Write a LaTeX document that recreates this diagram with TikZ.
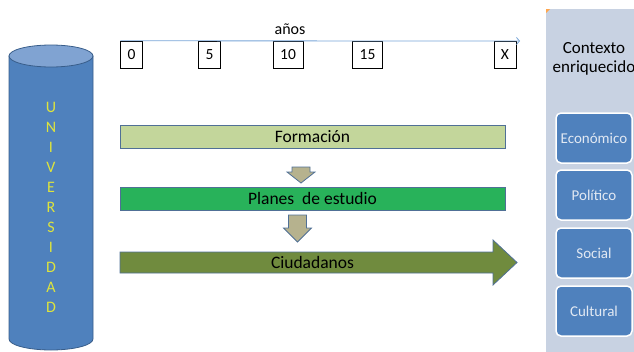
\documentclass[tikz,border=0pt]{standalone}
\usepackage{fontspec}
\setmainfont{Carlito}
\usetikzlibrary{arrows.meta,positioning,calc}

\definecolor{cylbody}{RGB}{79,129,189}
\definecolor{cyltop}{RGB}{128,163,210}
\definecolor{cylline}{RGB}{56,93,138}
\definecolor{uyellow}{RGB}{222,228,60}
\definecolor{lineblue}{RGB}{120,165,215}
\definecolor{barline}{RGB}{80,112,150}
\definecolor{formfill}{RGB}{195,214,155}
\definecolor{planfill}{RGB}{40,178,90}
\definecolor{ciudfill}{RGB}{112,139,62}
\definecolor{downfill}{RGB}{182,178,142}
\definecolor{panelfill}{RGB}{200,210,226}
\definecolor{boxtext}{RGB}{226,233,243}

\tikzset{
  uletter/.style={font=\fontsize{16}{16}\selectfont,text=uyellow,inner sep=0pt},
  tickbox/.style={draw,thin,fill=white,inner xsep=7pt,inner ysep=0pt,
    minimum height=27pt,font=\fontsize{15.5}{16}\selectfont},
  bar/.style={draw=barline,thick,minimum width=385pt,minimum height=23pt,
    font=\fontsize{17.5}{18}\selectfont},
  ctxbox/.style={draw=white,line width=1.5pt,fill=cylbody,rounded corners=5pt,
    minimum width=76pt,minimum height=50pt,text=boxtext,font=\fontsize{15}{16}\selectfont}
}

\begin{document}
\begin{tikzpicture}[x=1pt,y=1pt]
  \useasboundingbox (0,0) rectangle (634,-351);

  % Cylinder (universidad)
  \filldraw[fill=cylbody,draw=cylline,thick] (9,-56) -- (9,-339)
    arc[start angle=180,end angle=360,x radius=42,y radius=11] -- (93,-56) -- cycle;
  \filldraw[fill=cyltop,draw=cylline,thick] (51,-56) ellipse[x radius=42,y radius=11];
  \foreach \l [count=\i] in {U,N,I,V,E,R,S,I,D,A,D}
    \node[uletter] (u\i) at (51,-87-20*\i) {\l};

  % Time line
  \foreach \t/\x in {0/131.5,5/209.5,10/288,15/367.5,X/505}
    \node[tickbox] (t\t) at (\x,-54.5) {\t};
  \coordinate (tend) at (520,-41);
  \draw[lineblue,thick,-{Straight Barb[length=3pt,width=7pt]}] (t0.north west) -- (tend);
  \node[font=\fontsize{16}{16}\selectfont] (anos) at (290,-29) {años};

  % Bars
  \node[bar,fill=formfill] (form) at (312.5,-136.5) {Formación};
  \node[bar,fill=planfill] (plan) at (312.5,-198.5) {Planes\ \ de estudio};

  % Down arrows
  \foreach \cx/\ya/\yb/\yc in {301/167/172/183,297.5/215/228/242}
    \filldraw[fill=downfill,draw=barline,thick] ({\cx-9},-\ya) -- ({\cx+9},-\ya)
      -- ({\cx+9},-\yb) -- ({\cx+14},-\yb) -- (\cx,-\yc) -- ({\cx-14},-\yb)
      -- ({\cx-9},-\yb) -- cycle;

  % Ciudadanos arrow
  \filldraw[fill=ciudfill,draw=barline,thick] (120,-252) -- (493,-252) -- (493,-240)
    -- (517,-262.5) -- (493,-285) -- (493,-273) -- (120,-273) -- cycle;
  \node[font=\fontsize{17.5}{18}\selectfont] (ciud) at (312.5,-262.5) {Ciudadanos};

  % Context panel
  \fill[panelfill] (546,-9) rectangle (640,-355);
  \fill[orange!70] (546,-9) -- (550,-9) -- (546,-13) -- cycle;
  \node[align=center,font=\fontsize{17}{19}\selectfont] (ctx) at (594,-59)
    {Contexto\\enriquecido};
  \foreach \lbl/\nm/\yc in {Económico/econ/138,Político/poli/195,Social/soc/253,Cultural/cult/311}
    \node[ctxbox] (\nm) at (594,-\yc) {\lbl};
\end{tikzpicture}
\end{document}
